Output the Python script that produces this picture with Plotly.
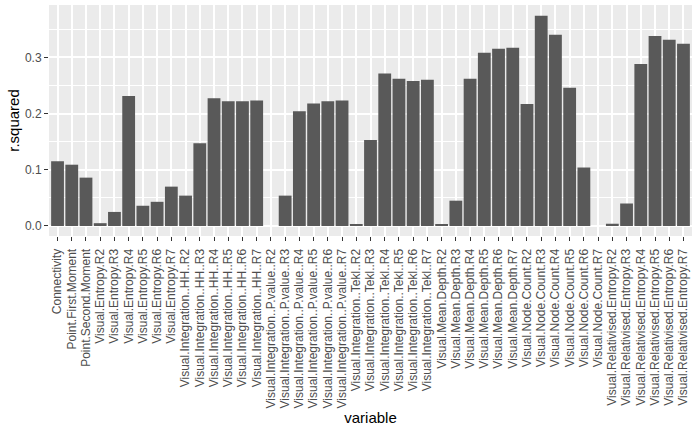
import plotly.graph_objects as go

variables = [
    "Connectivity", "Point.First.Moment", "Point.Second.Moment",
    "Visual.Entropy.R2", "Visual.Entropy.R3", "Visual.Entropy.R4",
    "Visual.Entropy.R5", "Visual.Entropy.R6", "Visual.Entropy.R7",
    "Visual.Integration..HH..R2", "Visual.Integration..HH..R3", "Visual.Integration..HH..R4",
    "Visual.Integration..HH..R5", "Visual.Integration..HH..R6", "Visual.Integration..HH..R7",
    "Visual.Integration..P.value..R2", "Visual.Integration..P.value..R3", "Visual.Integration..P.value..R4",
    "Visual.Integration..P.value..R5", "Visual.Integration..P.value..R6", "Visual.Integration..P.value..R7",
    "Visual.Integration..Tekl..R2", "Visual.Integration..Tekl..R3", "Visual.Integration..Tekl..R4",
    "Visual.Integration..Tekl..R5", "Visual.Integration..Tekl..R6", "Visual.Integration..Tekl..R7",
    "Visual.Mean.Depth.R2", "Visual.Mean.Depth.R3", "Visual.Mean.Depth.R4",
    "Visual.Mean.Depth.R5", "Visual.Mean.Depth.R6", "Visual.Mean.Depth.R7",
    "Visual.Node.Count.R2", "Visual.Node.Count.R3", "Visual.Node.Count.R4",
    "Visual.Node.Count.R5", "Visual.Node.Count.R6", "Visual.Node.Count.R7",
    "Visual.Relativised.Entropy.R2", "Visual.Relativised.Entropy.R3", "Visual.Relativised.Entropy.R4",
    "Visual.Relativised.Entropy.R5", "Visual.Relativised.Entropy.R6", "Visual.Relativised.Entropy.R7",
]

r_squared = [
    0.115, 0.109, 0.086,
    0.005, 0.025, 0.231, 0.036, 0.043, 0.070,
    0.054, 0.147, 0.227, 0.222, 0.222, 0.223,
    0.0, 0.054, 0.204, 0.218, 0.222, 0.223,
    0.002, 0.153, 0.271, 0.262, 0.258, 0.260,
    0.002, 0.045, 0.262, 0.308, 0.315, 0.317,
    0.217, 0.374, 0.340, 0.246, 0.104, 0.0,
    0.004, 0.040, 0.288, 0.338, 0.331, 0.324,
]

fig = go.Figure(go.Bar(x=variables, y=r_squared, width=0.9,
                       marker=dict(color="#595959", line=dict(width=0))))

fig.update_layout(
    width=700, height=432,
    margin=dict(l=49, r=8, t=5, b=196),
    paper_bgcolor="white", plot_bgcolor="#EBEBEB",
    font=dict(family="Liberation Sans, Arial", color="black"),
    showlegend=False,
)
fig.update_xaxes(
    type="category", range=[-0.6, len(variables) - 0.4], automargin=False,
    showgrid=True, gridcolor="white", gridwidth=1.5,
    ticks="outside", ticklen=4, tickcolor="#333333", tickwidth=1,
    tickangle=-90, tickfont=dict(size=12, color="#4D4D4D"), ticklabelstandoff=3,
    title=dict(text="variable", font=dict(size=15), standoff=5),
    zeroline=False, showline=False,
)
fig.update_yaxes(
    range=[-0.0178, 0.393], dtick=0.1, tickformat=".1f", automargin=False,
    showgrid=True, gridcolor="white", gridwidth=1.5,
    minor=dict(dtick=0.05, showgrid=True, gridcolor="white", gridwidth=0.6),
    ticks="outside", ticklen=4, tickcolor="#333333", tickwidth=1,
    tickfont=dict(size=12, color="#4D4D4D"),
    title=dict(text="r.squared", font=dict(size=15), standoff=1),
    zeroline=False, showline=False,
)

# drop the browser's default 8px body margin so the figure sits at (0, 0)
fig.write_html("out.html", config={"displayModeBar": False},
               post_script="document.body.style.margin='0';")
